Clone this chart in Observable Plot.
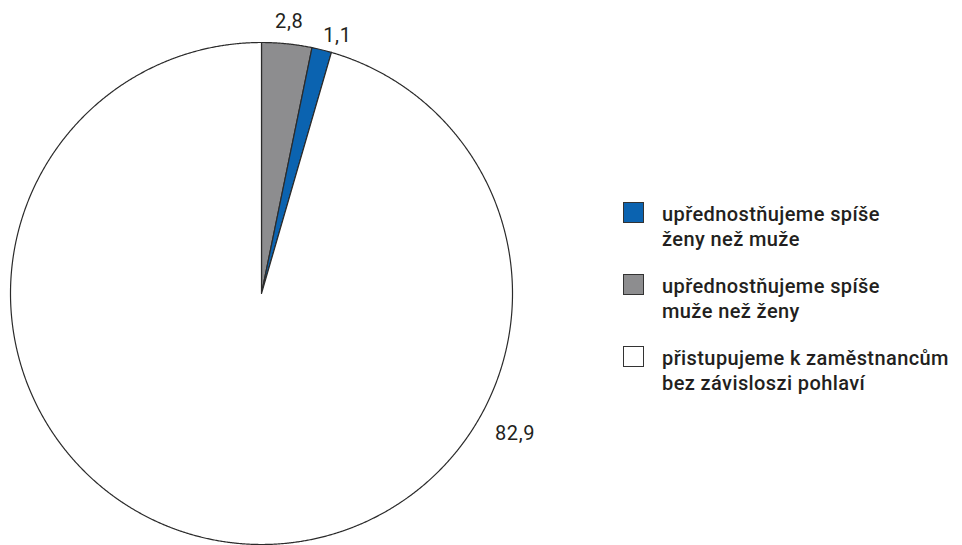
<!DOCTYPE html>
<html>
<head>
<meta charset="utf-8">
<script src="https://cdn.jsdelivr.net/npm/d3@7"></script>
<script src="https://cdn.jsdelivr.net/npm/@observablehq/plot@0.6"></script>
<style>
  html, body { margin: 0; padding: 0; background: #fff; }
  #wrap { position: relative; width: 962px; height: 545px; overflow: hidden; font-family: Roboto, "Noto Sans", sans-serif; }
  #legend { position: absolute; left: 623px; top: 202px; }
  .item { position: relative; height: 72px; }
  .sw { position: absolute; left: 0; top: 0; width: 19px; height: 19px; border: 1.3px solid #333; }
  .lab { position: absolute; left: 39px; top: 0; font-size: 20px; font-weight: 500; letter-spacing: 0.4px; line-height: 25px; color: #231f20; white-space: nowrap; }
</style>
</head>
<body>
<div id="wrap"><div id="chart"></div><div id="legend"></div></div>
<script>
// Survey answers (percent); slices drawn clockwise from 12 o'clock in this order
const categories = [
  "upřednostňujeme spíše muže než ženy",
  "upřednostňujeme spíše ženy než muže",
  "přistupujeme k zaměstnancům bez závisloszi pohlaví"
];
const values = [2.8, 1.1, 82.9];
const labels = ["2,8", "1,1", "82,9"];
const colors = ["#8d8d8f", "#0b63b0", "#ffffff"];

// Legend order and line breaks
const legendOrder = [1, 0, 2];
const legendLines = [
  ["upřednostňujeme spíše", "muže než ženy"],
  ["upřednostňujeme spíše", "ženy než muže"],
  ["přistupujeme k zaměstnancům", "bez závisloszi pohlaví"]
];

const arcs = d3.pie().sort(null).value(d => d.value)(
  categories.map((c, i) => ({category: c, value: values[i], label: labels[i], color: colors[i]}))
);

// Outline of each slice as a polygon in unit-circle coordinates (y up)
const outline = [];
arcs.forEach((a, i) => {
  const steps = Math.max(2, Math.ceil((a.endAngle - a.startAngle) / (Math.PI / 720)));
  outline.push({slice: i, x: 0, y: 0, color: a.data.color});
  for (let k = 0; k <= steps; k++) {
    const t = a.startAngle + (a.endAngle - a.startAngle) * k / steps;
    outline.push({slice: i, x: Math.sin(t), y: Math.cos(t), color: a.data.color});
  }
  outline.push({slice: i, x: 0, y: 0, color: a.data.color});
});

// Value labels: small slices just outside their mid-angle, the large one to the lower right
const labelPoints = arcs.map((a, i) => {
  const mid = i === 2 ? 119 * Math.PI / 180 : (a.startAngle + a.endAngle) / 2;
  const r = i === 2 ? 1.155 : (i === 0 ? 1.09 : 1.06);
  return {x: Math.sin(mid) * r, y: Math.cos(mid) * r, label: a.data.label, shift: i === 1 ? 12 : 0};
});

const chart = Plot.plot({
  width: 962,
  height: 545,
  marginLeft: 10,
  marginRight: 450,
  marginTop: 42,
  marginBottom: 1,
  x: {domain: [-1, 1], axis: null},
  y: {domain: [-1, 1], axis: null},
  color: {type: "identity"},
  style: {fontFamily: "Roboto, 'Noto Sans', sans-serif", overflow: "visible"},
  marks: [
    Plot.line(outline, {x: "x", y: "y", z: "slice", fill: "color", stroke: "#2b2b2b", strokeWidth: 1.2, strokeLinejoin: "round"}),
    Plot.text(labelPoints.filter(d => d.shift === 0), {x: "x", y: "y", text: "label", fontSize: 20, fill: "#231f20"}),
    Plot.text(labelPoints.filter(d => d.shift !== 0), {x: "x", y: "y", text: "label", dx: 12, fontSize: 20, fill: "#231f20"})
  ]
});
chart.querySelectorAll("text").forEach(t => t.style.letterSpacing = "0.6px");
document.getElementById("chart").appendChild(chart);

const legend = document.getElementById("legend");
legendOrder.forEach((ci, j) => {
  const item = document.createElement("div");
  item.className = "item";
  const sw = document.createElement("div");
  sw.className = "sw";
  sw.style.background = colors[ci];
  const lab = document.createElement("div");
  lab.className = "lab";
  lab.innerHTML = legendLines[ci].join("<br>");
  item.appendChild(sw);
  item.appendChild(lab);
  legend.appendChild(item);
});
</script>
</body>
</html>
